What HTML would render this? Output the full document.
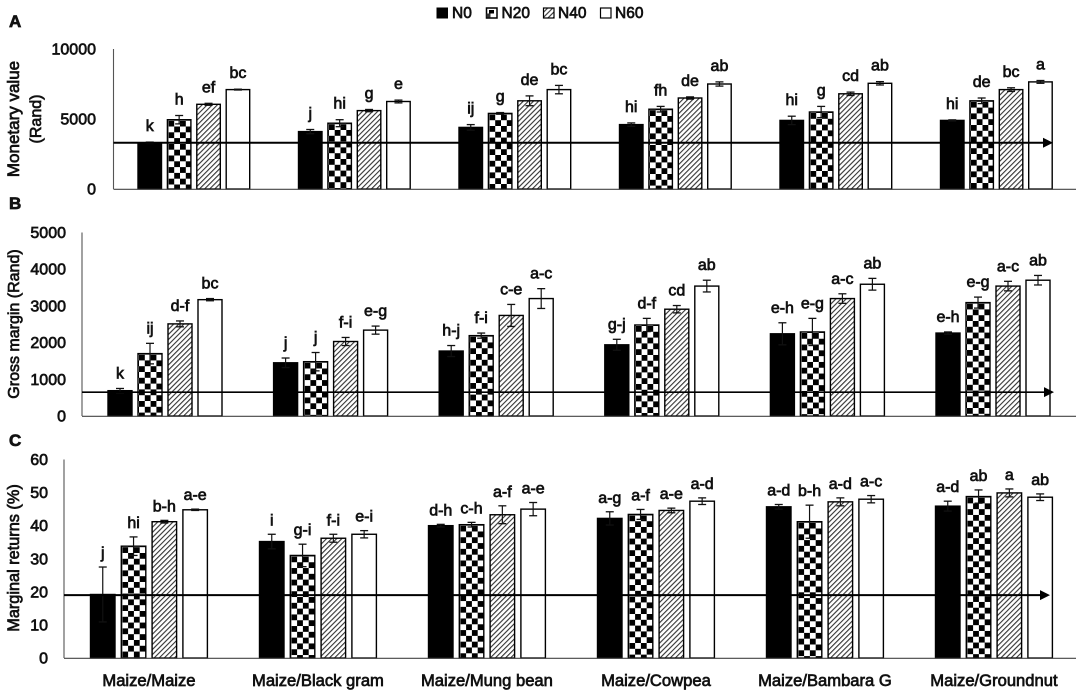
<!DOCTYPE html>
<html>
<head>
<meta charset="utf-8">
<style>
html,body{margin:0;padding:0;background:#fff;}
svg{display:block;}
text{font-family:"Liberation Sans",sans-serif;font-weight:normal;fill:#111;stroke:#111;stroke-width:0.7px;}
</style>
</head>
<body>
<svg id="chart" width="1084" height="693" viewBox="0 0 1084 693" xmlns="http://www.w3.org/2000/svg">
<defs>
<pattern id="checker" patternUnits="userSpaceOnUse" width="11.6" height="11.6" x="1" y="1">
<rect width="11.6" height="11.6" fill="#fff"/>
<rect x="0" y="0" width="5.8" height="5.8" fill="#000"/>
<rect x="5.8" y="5.8" width="5.8" height="5.8" fill="#000"/>
</pattern>
<pattern id="hatch" patternUnits="userSpaceOnUse" width="3.6" height="3.6" patternTransform="rotate(45)">
<rect width="3.6" height="3.6" fill="#fff"/>
<rect x="0" y="0" width="1.1" height="3.6" fill="#333"/>
</pattern>
</defs>
<g id="legend">
<g>
<rect x="437" y="8" width="10.5" height="10" fill="#000" stroke="#000"/>
<text x="452" y="18" font-size="15.5">N0</text>
</g>
<g>
<rect x="486.5" y="8" width="10.5" height="10" fill="#fff" stroke="#000" stroke-width="1.5"/>
<rect x="489" y="10" width="5" height="3.5" fill="#000"/>
<rect x="486.5" y="13.5" width="4" height="4" fill="#333"/>
<text x="501.5" y="18" font-size="15.5">N20</text>
</g>
<g>
<rect x="543.5" y="8" width="10.5" height="10" fill="url(#hatch)" stroke="#000" stroke-width="1.2"/>
<text x="558" y="18" font-size="15.5">N40</text>
</g>
<g>
<rect x="600.5" y="8" width="10.5" height="10" fill="#fff" stroke="#000" stroke-width="1.2"/>
<text x="615" y="18" font-size="15.5">N60</text>
</g>
</g>
</svg>
<script>
var categories = ["Maize/Maize","Maize/Black gram","Maize/Mung bean","Maize/Cowpea","Maize/Bambara G","Maize/Groundnut"];
var seriesNames = ["N0","N20","N40","N60"];

var ticksA = [0,5000,10000];
var refA = 3300;
var n0A  = [3300,4100,4400,4600,4900,4900];
var n20A = [4950,4700,5400,5700,5500,6300];
var n40A = [6050,5600,6300,6500,6800,7100];
var n60A = [7100,6250,7100,7500,7550,7650];
var errN0A  = [50,150,200,120,300,40];
var errN20A = [300,250,60,200,400,200];
var errN40A = [70,80,350,80,120,130];
var errN60A = [30,100,300,150,120,100];
var lettersN0A  = ["k","j","ij","hi","hi","hi"];
var lettersN20A = ["h","hi","g","fh","g","de"];
var lettersN40A = ["ef","g","de","de","cd","bc"];
var lettersN60A = ["bc","e","bc","ab","ab","a"];

var ticksB = [0,1000,2000,3000,4000,5000];
var refB = 650;
var n0B  = [690,1450,1770,1940,2240,2260];
var n20B = [1700,1480,2190,2480,2290,3090];
var n40B = [2510,2030,2740,2910,3200,3540];
var n60B = [3170,2340,3200,3540,3590,3700];
var errN0B  = [60,130,150,150,300,30];
var errN20B = [280,250,70,180,370,150];
var errN40B = [80,110,300,100,130,130];
var errN60B = [30,110,270,160,160,130];
var lettersN0B  = ["k","j","h-j","g-j","e-h","e-h"];
var lettersN20B = ["ij","j","f-i","d-f","e-g","e-g"];
var lettersN40B = ["d-f","f-i","c-e","cd","a-c","a-c"];
var lettersN60B = ["bc","e-g","a-c","ab","ab","ab"];

var ticksC = [0,10,20,30,40,50,60];
var refC = 19;
var n0C  = [19.2,35.2,40,42.2,45.7,45.9];
var n20C = [33.8,31,40.3,43.4,41.2,48.8];
var n40C = [41.2,36.2,43.3,44.6,47.2,49.9];
var n60C = [44.8,37.4,45,47.4,48,48.6];
var errN0C  = [8.3,2.2,0.4,2,0.7,1.5];
var errN20C = [2.8,3.4,0.7,1.5,5,2];
var errN40C = [0.4,1.2,2.7,0.7,1.2,1.2];
var errN60C = [0.2,1.1,2,1,1.1,1];
var lettersN0C  = ["j","i","d-h","a-g","a-d","a-d"];
var lettersN20C = ["hi","g-i","c-h","a-f","b-h","ab"];
var lettersN40C = ["b-h","f-i","a-f","a-e","a-d","a"];
var lettersN60C = ["a-e","e-i","a-e","a-d","a-c","ab"];

var svg = document.getElementById('chart');
var NS = 'http://www.w3.org/2000/svg';
function mk(tag, attrs, parent, txt){
  var el = document.createElementNS(NS, tag);
  for (var k in attrs) el.setAttribute(k, attrs[k]);
  if (txt !== undefined) el.textContent = txt;
  (parent || svg).appendChild(el);
  return el;
}
var fills = ['#000','url(#checker)','url(#hatch)','#fff'];

function drawPanel(p){
  var yScale = function(v){ return p.y0 - (v / p.max) * (p.y0 - p.yTop); };
  var xScale = function(g, s){ return p.x0 + g * p.groupStep + s * p.pitch; };
  var g = mk('g', {}, svg);
  
  

  var letter = mk('text', {x:9, y:p.letterY, 'font-size':17, style:'font-weight:bold'}, g, p.id);
  
  

  p.titles.forEach(function(t, i){
    var tx = mk('text', {'font-size':t.size, 'text-anchor':'middle', transform:'translate(' + t.x + ',' + p.titleY + ') rotate(-90)'}, g, t.text);
    
    
  });

  p.ticks.forEach(function(v){
    var tl = mk('text', {x:p.tickRight, y:yScale(v) + 5.5, 'font-size':16, 'text-anchor':'end'}, g, String(v));
    
    
  });

  var series = p.series, errs = p.errs, letters = p.letters;
  categories.forEach(function(cat, gi){
    series.forEach(function(vals, si){
      var v = vals[gi], e = errs[si][gi];
      var x = xScale(gi, si), top = yScale(v), h = p.y0 - top;
      var holder = mk('g', {transform:'translate(' + x + ',' + top + ')'}, g);
      
      
      var r = mk('rect', {x:0, y:0, width:p.barW, height:h, fill:fills[si], stroke:'#000', 'stroke-width':1.4}, holder);
      
      
      var cx = x + p.barW / 2, eTop = yScale(v + e), eBot = yScale(v - e);
      var stem = mk('line', {x1:cx, x2:cx, y1:eTop, y2:eBot, stroke:'#111', 'stroke-width':1.2}, g);
      
      
      var capT = mk('line', {x1:cx - 4, x2:cx + 4, y1:eTop, y2:eTop, stroke:'#111', 'stroke-width':1.3}, g);
      
      
      var capB = mk('line', {x1:cx - 4, x2:cx + 4, y1:eBot, y2:eBot, stroke:'#111', 'stroke-width':1.3}, g);
      
      
      var lab = mk('text', {x:cx, y:eTop - p.labelGap, 'font-size':16, 'text-anchor':'middle'}, g, letters[si][gi]);
      
      
    });
  });

  var yAxis = mk('line', {x1:p.axisX, x2:p.axisX, y1:p.yTop, y2:p.y0, stroke:'#555', 'stroke-width':1.1}, g);
  
  
  var xAxis = mk('line', {x1:p.axisX, x2:1076, y1:p.y0 + 0.3, y2:p.y0 + 0.3, stroke:'#444', 'stroke-width':1.2}, g);
  
  

  var ry = yScale(p.ref);
  var refLine = mk('line', {x1:p.axisX, x2:p.arrowTip - 8, y1:ry, y2:ry, stroke:'#000', 'stroke-width':p.refW}, g);
  
  
  var arrow = mk('polygon', {points:(p.arrowTip - 10) + ',' + (ry - 5) + ' ' + p.arrowTip + ',' + ry + ' ' + (p.arrowTip - 10) + ',' + (ry + 5), fill:'#000'}, g);
  
  

  if (p.showCats) {
    categories.forEach(function(cat, gi){
      var cx = p.x0 + gi * p.groupStep + (3 * p.pitch + p.barW) / 2;
      var c = mk('text', {x:cx, y:686, 'font-size':16.6, 'text-anchor':'middle'}, g, cat);
      
      
    });
  }
}

drawPanel({id:'A', max:10000, y0:189, yTop:49, axisX:113.5, x0:138, groupStep:160.5, pitch:29.4, barW:23.5,
  ticks:ticksA, ref:refA, refW:2, arrowTip:1053, tickRight:96, letterY:27, titleY:119, labelGap:11,
  titles:[{x:19,size:17,text:'Monetary value'},{x:41,size:16,text:'(Rand)'}],
  series:[n0A,n20A,n40A,n60A], errs:[errN0A,errN20A,errN40A,errN60A],
  letters:[lettersN0A,lettersN20A,lettersN40A,lettersN60A]});
drawPanel({id:'B', max:5000, y0:416, yTop:232.5, axisX:82, x0:108, groupStep:165.6, pitch:30, barW:24,
  ticks:ticksB, ref:refB, refW:1.6, arrowTip:1054, tickRight:66, letterY:209, titleY:324, labelGap:10,
  titles:[{x:19,size:16,text:'Gross margin (Rand)'}],
  series:[n0B,n20B,n40B,n60B], errs:[errN0B,errN20B,errN40B,errN60B],
  letters:[lettersN0B,lettersN20B,lettersN40B,lettersN60B]});
drawPanel({id:'C', max:60, y0:658, yTop:459.5, axisX:64, x0:90.5, groupStep:169, pitch:30.8, barW:24.5,
  ticks:ticksC, ref:refC, refW:2, arrowTip:1050, tickRight:48, letterY:446, titleY:558, labelGap:9, showCats:true,
  titles:[{x:19,size:16.3,text:'Marginal returns (%)'}],
  series:[n0C,n20C,n40C,n60C], errs:[errN0C,errN20C,errN40C,errN60C],
  letters:[lettersN0C,lettersN20C,lettersN40C,lettersN60C]});
</script>
</body>
</html>
